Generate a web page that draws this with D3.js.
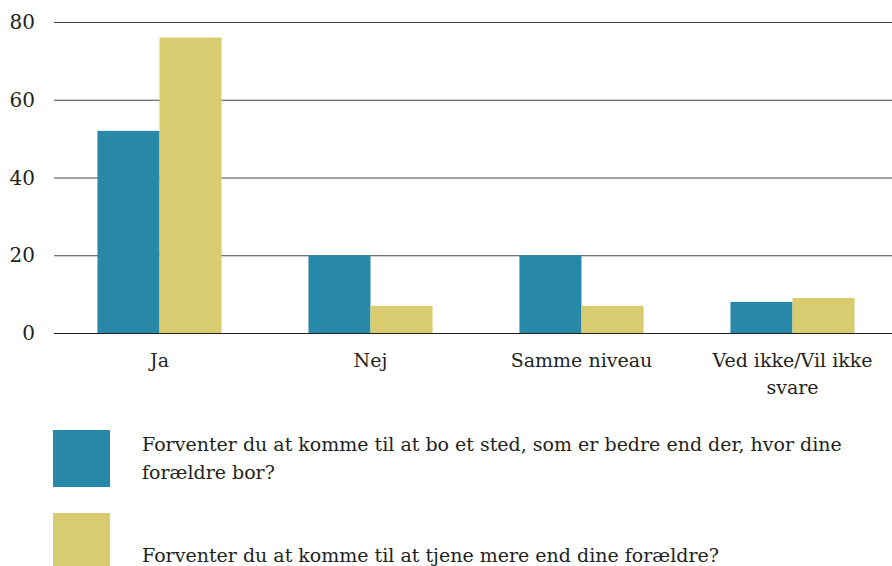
<!DOCTYPE html>
<html>
<head>
<meta charset="utf-8">
<script src="https://cdn.jsdelivr.net/npm/d3@7"></script>
<style>
  body { margin: 0; background: #fff; }
</style>
</head>
<body>
<svg width="892" height="566" font-family="'DejaVu Serif', serif"></svg>
<script>
var categories = ['Ja', 'Nej', 'Samme niveau', 'Ved ikke/Vil ikke svare'];
var seriesNames = [
    'Forventer du at komme til at bo et sted, som er bedre end der, hvor dine forældre bor?',
    'Forventer du at komme til at tjene mere end dine forældre?'
];
var boBedre = [52, 20, 20, 8];
var tjeneMere = [76, 7, 7, 9];
var yTicks = [0, 20, 40, 60, 80];
var colors = ['#2888a7', '#d9cb6f'];

var svg = d3.select('svg');

var ScaleX = d3.scaleBand().domain(categories).range([54, 898]);
var ScaleSub = d3.scaleBand().domain([0, 1]).range([0, ScaleX.bandwidth()]).paddingOuter(0.7);
var ScaleY = d3.scaleLinear().domain([0, 80]).range([333, 22]);

// gridlines
svg.append('g')
    .selectAll('line')
    .data(yTicks.slice(1))
    .enter()
    .append('line')
    .attr('x1', 54)
    .attr('x2', 892)
    .attr('y1', function(d){ return ScaleY(d) + 0.5; })
    .attr('y2', function(d){ return ScaleY(d) + 0.5; })
    .attr('stroke', '#444')
    .attr('stroke-width', 1);

var rows = categories.map(function(c, i){
    return { cat: c, vals: [boBedre[i], tjeneMere[i]] };
});

var groups = svg.selectAll('g.grp')
    .data(rows)
    .enter()
    .append('g')
    .attr('class', 'grp')
    .attr('transform', function(d){ return 'translate(' + ScaleX(d.cat) + ',0)'; });

groups.selectAll('rect')
    .data(function(d){ return d.vals; })
    .enter()
    .append('rect')
    .attr('x', function(d, i){ return ScaleSub(i); })
    .attr('width', ScaleSub.bandwidth())
    .attr('y', function(d){ return ScaleY(d); })
    .attr('height', function(d){ return ScaleY(0) - ScaleY(d); })
    .attr('fill', function(d, i){ return colors[i]; });

// baseline
svg.append('line')
    .attr('x1', 54)
    .attr('x2', 892)
    .attr('y1', ScaleY(0) + 0.5)
    .attr('y2', ScaleY(0) + 0.5)
    .attr('stroke', '#231f20')
    .attr('stroke-width', 1.2);

// y tick labels
svg.append('g')
    .selectAll('text')
    .data(yTicks)
    .enter()
    .append('text')
    .attr('x', 35)
    .attr('y', function(d){ return ScaleY(d) + 7; })
    .attr('text-anchor', 'end')
    .attr('font-size', 20)
    .attr('fill', '#231f20')
    .text(function(d){ return d; });

// category labels
var catLabels = [['Ja'], ['Nej'], ['Samme niveau'], ['Ved ikke/Vil ikke', 'svare']];
svg.append('g')
    .selectAll('text')
    .data(categories)
    .enter()
    .append('text')
    .attr('text-anchor', 'middle')
    .attr('font-size', 19)
    .attr('fill', '#231f20')
    .attr('y', 367)
    .each(function(d, i){
        var t = d3.select(this);
        catLabels[i].forEach(function(line, j){
            t.append('tspan')
                .attr('x', ScaleX(d) + ScaleX.bandwidth() / 2)
                .attr('dy', j === 0 ? 0 : 27)
                .text(line);
        });
    });

// legend
var legendLines = [
    ['Forventer du at komme til at bo et sted, som er bedre end der, hvor dine', 'forældre bor?'],
    ['', 'Forventer du at komme til at tjene mere end dine forældre?']
];
var legend = svg.selectAll('g.leg')
    .data(seriesNames)
    .enter()
    .append('g')
    .attr('class', 'leg')
    .attr('transform', function(d, i){ return 'translate(53,' + (430 + i * 83) + ')'; });

legend.append('rect')
    .attr('width', 57)
    .attr('height', 57)
    .attr('fill', function(d, i){ return colors[i]; });

legend.append('text')
    .attr('font-size', 19)
    .attr('fill', '#231f20')
    .attr('y', 21)
    .each(function(d, i){
        var t = d3.select(this);
        legendLines[i].forEach(function(line, j){
            t.append('tspan')
                .attr('x', 89)
                .attr('dy', j === 0 ? 0 : 28)
                .text(line);
        });
    });
</script>
</body>
</html>
